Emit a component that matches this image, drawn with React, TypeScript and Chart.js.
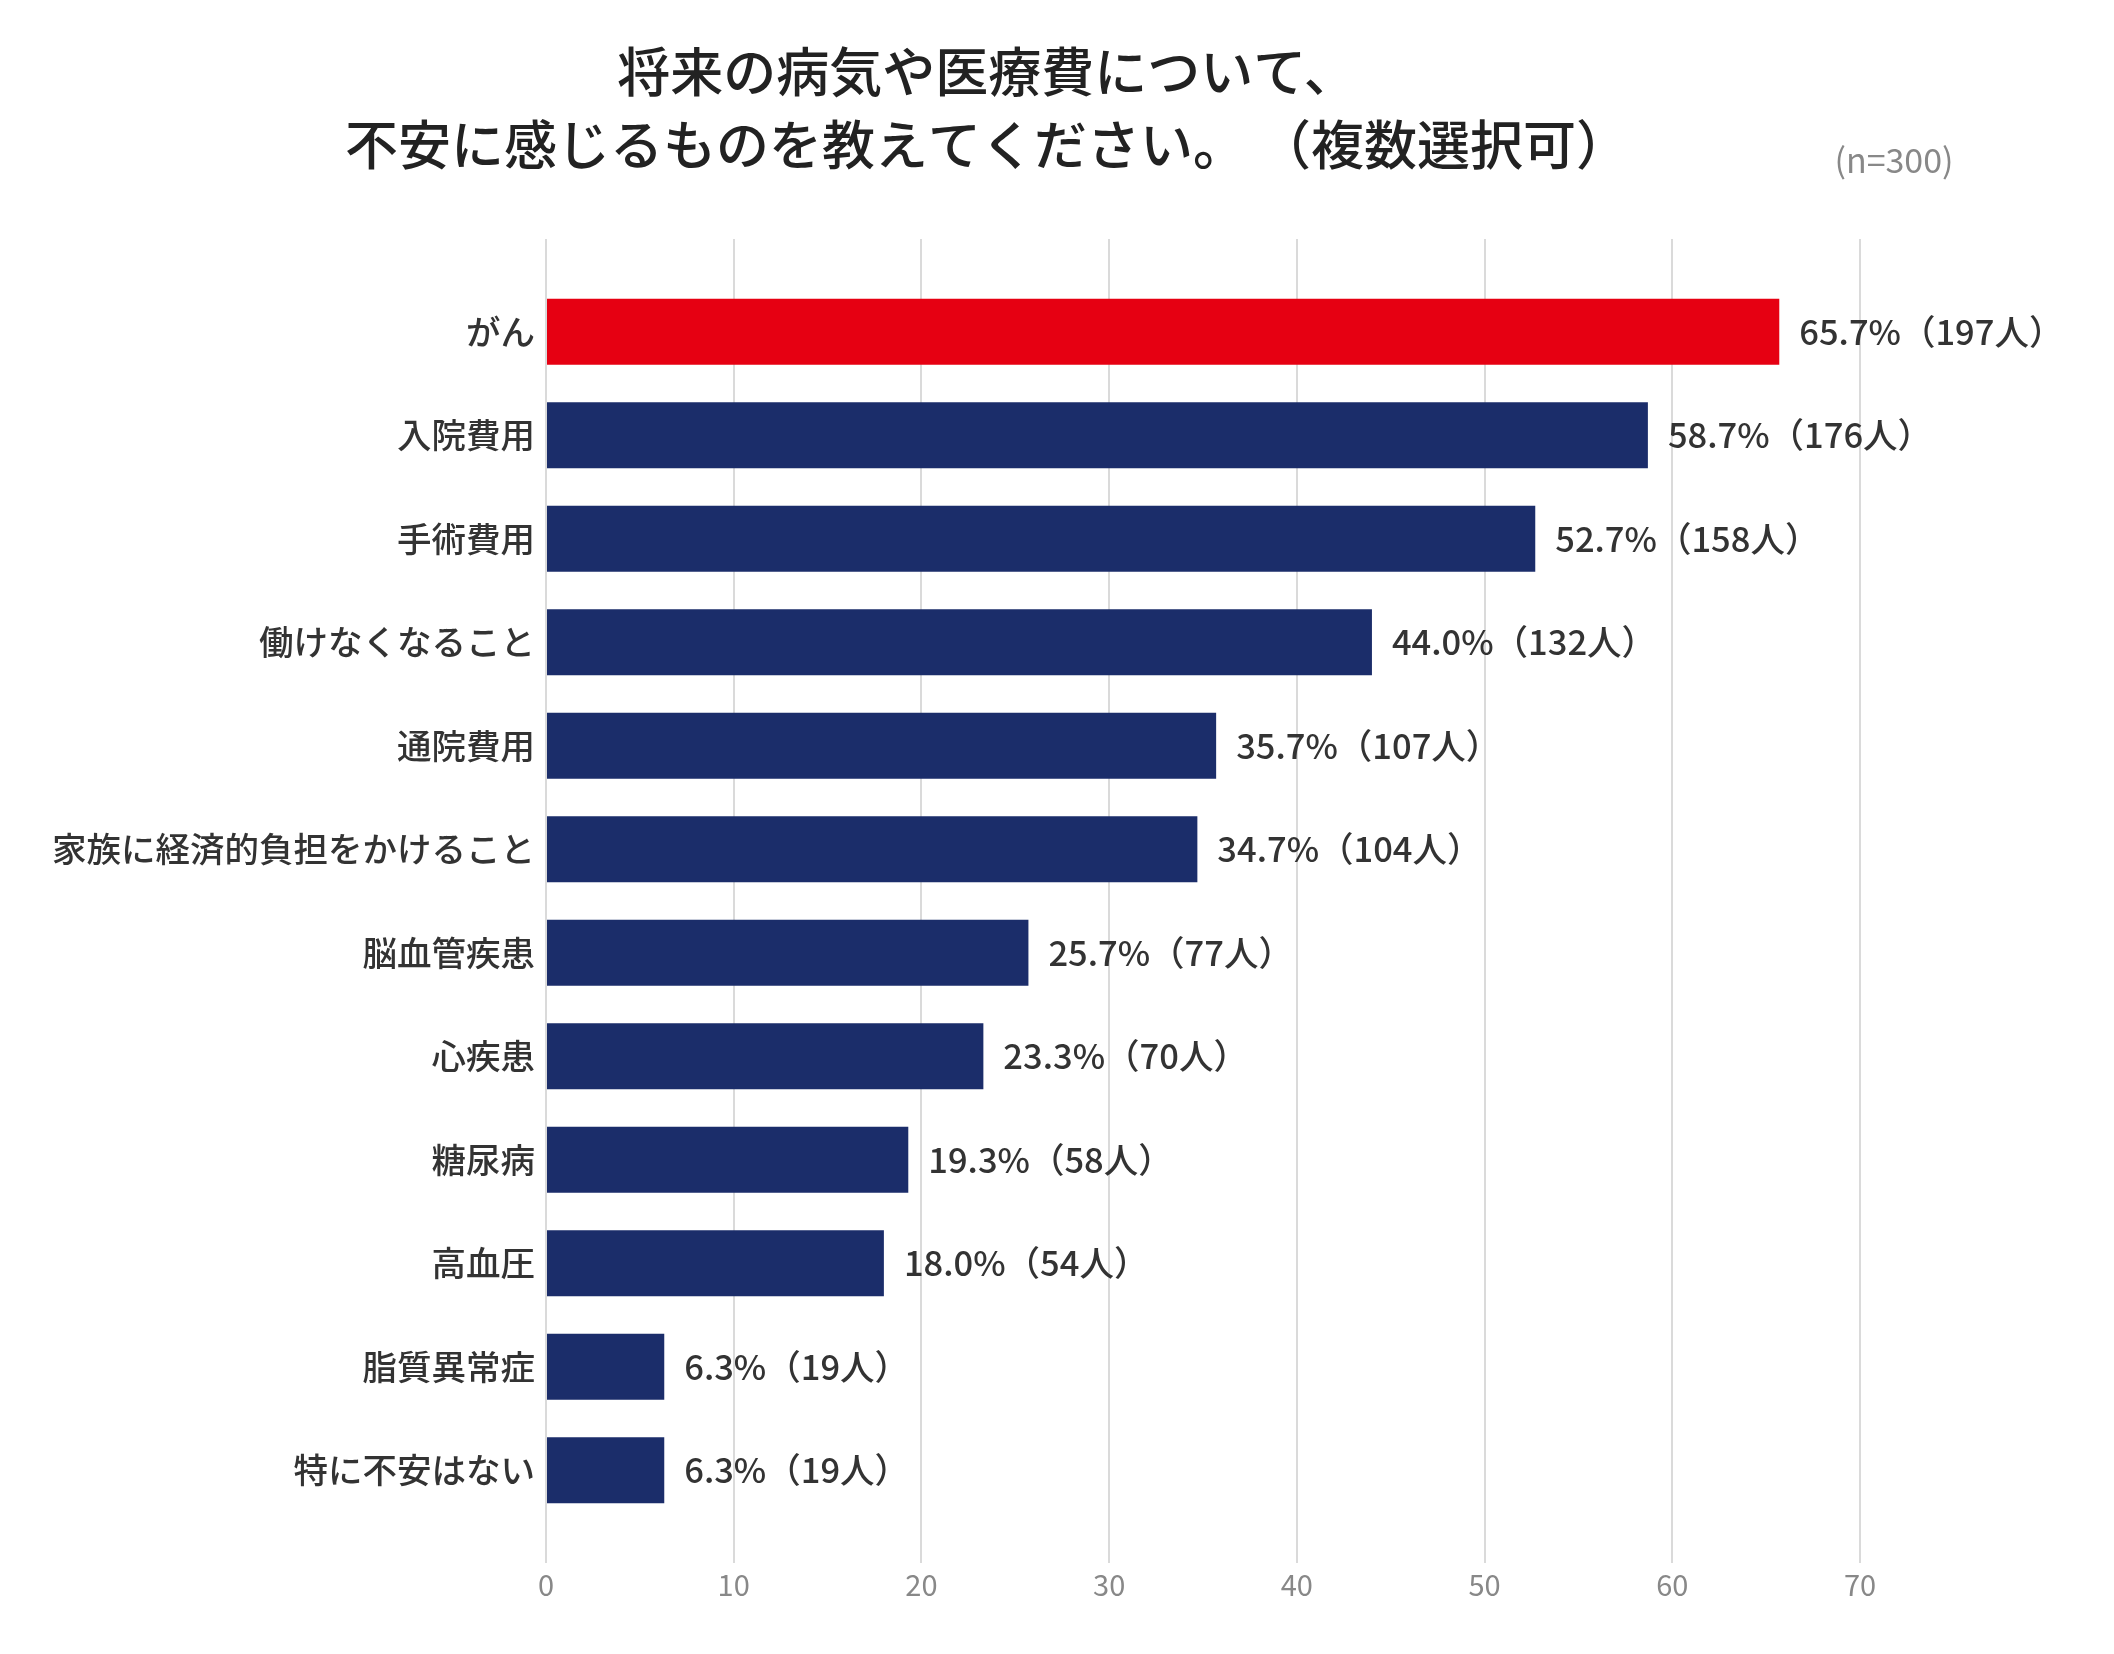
import React, { useEffect, useRef } from 'react';
import { Chart } from 'chart.js/auto';

const categories = [
  'がん',
  '入院費用',
  '手術費用',
  '働けなくなること',
  '通院費用',
  '家族に経済的負担をかけること',
  '脳血管疾患',
  '心疾患',
  '糖尿病',
  '高血圧',
  '脂質異常症',
  '特に不安はない',
];
const percents = [65.7, 58.7, 52.7, 44.0, 35.7, 34.7, 25.7, 23.3, 19.3, 18.0, 6.3, 6.3];
const counts = [197, 176, 158, 132, 107, 104, 77, 70, 58, 54, 19, 19];

const titleLines = ['将来の病気や医療費について、', '不安に感じるものを教えてください。 （複数選択可）'];
const sampleNote = '(n=300)';

const FONT = '"Noto Sans CJK JP", "Noto Sans", sans-serif';
const W = 2114;
const H = 1654;

const headerPlugin = {
  id: 'header',
  afterDraw(chart: Chart) {
    const ctx = chart.ctx;
    ctx.save();
    ctx.textAlign = 'center';
    ctx.textBaseline = 'middle';
    ctx.fillStyle = '#222';
    ctx.font = `500 53px ${FONT}`;
    ctx.fillText(titleLines[0], 987, 72);
    ctx.fillText(titleLines[1], 987, 145);
    ctx.fillStyle = '#888';
    ctx.font = `34px ${FONT}`;
    ctx.fillText(sampleNote, 1894, 160);
    ctx.restore();
  },
};

const valueLabels = {
  id: 'valueLabels',
  afterDatasetsDraw(chart: Chart) {
    const ctx = chart.ctx;
    const meta = chart.getDatasetMeta(0);
    ctx.save();
    ctx.textAlign = 'left';
    ctx.textBaseline = 'middle';
    ctx.fillStyle = '#333';
    ctx.font = `500 34.5px ${FONT}`;
    meta.data.forEach((bar: any, i: number) => {
      ctx.fillText(`${percents[i].toFixed(1)}%（${counts[i]}人）`, bar.x + 20, bar.y);
    });
    ctx.restore();
  },
};

export default function App() {
  const canvasRef = useRef<HTMLCanvasElement>(null);

  useEffect(() => {
    document.body.style.margin = '0';
    const el = canvasRef.current;
    if (!el) return;

    const gridColor = '#dadada';
    const chart = new Chart(el, {
      type: 'bar',
      data: {
        labels: categories,
        datasets: [{
          data: percents,
          backgroundColor: categories.map((_, i) => (i === 0 ? '#e60012' : '#1b2d6a')),
          borderWidth: 0,
          barPercentage: 0.638,
          categoryPercentage: 1,
          xAxisID: 'x',
          yAxisID: 'y',
        }],
      },
      options: {
        indexAxis: 'y',
        responsive: false,
        devicePixelRatio: 1,
        animation: false,
        layout: { padding: { top: 239, right: 254, bottom: 0, left: 0 } },
        plugins: {
          legend: { display: false },
          tooltip: { enabled: false },
        },
        scales: {
          x: {
            type: 'linear',
            position: 'bottom',
            min: 0,
            max: 70,
            ticks: { stepSize: 10, color: '#888', font: { family: FONT, size: 29 }, padding: 5 },
            grid: { color: gridColor, lineWidth: 2, tickLength: 41 },
            border: { display: false },
            afterFit: (s: any) => { s.height = 132; },
          },
          x2: {
            type: 'linear',
            position: 'top',
            min: 0,
            max: 70,
            ticks: { stepSize: 10, display: false },
            grid: { color: gridColor, lineWidth: 2, tickLength: 41 },
            border: { display: false },
            afterFit: (s: any) => { s.height = 41; },
          },
          y: {
            type: 'category',
            position: 'left',
            grid: { display: false },
            border: { display: false },
            ticks: { color: '#333', font: { family: FONT, size: 34.5, weight: 500 }, padding: 3, autoSkip: false },
            afterFit: (s: any) => { s.width = 546; },
          },
        },
      },
      plugins: [headerPlugin, valueLabels],
    });

    return () => {
      chart.destroy();
    };
  }, []);

  return (
    <div style={{ width: W, height: H, background: '#fff' }}>
      <canvas ref={canvasRef} width={W} height={H} style={{ width: W, height: H, display: 'block' }} />
    </div>
  );
}
